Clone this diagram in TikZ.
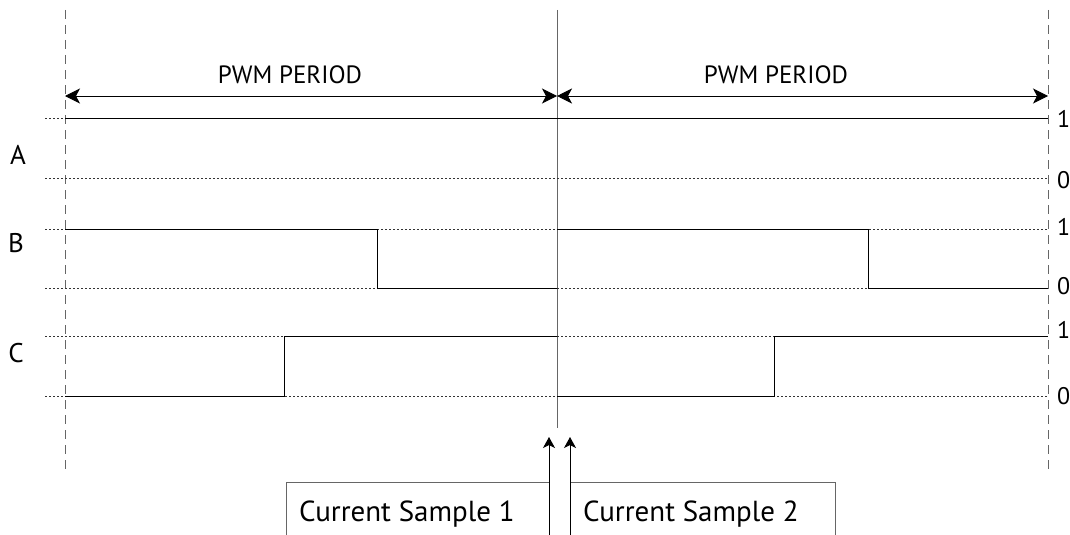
\documentclass[tikz,border=0pt]{standalone}
\usepackage{fontspec}
\setmainfont{PT Sans}
\usetikzlibrary{arrows.meta,calc,positioning}

\tikzset{
  guide/.style={black!60, line width=1pt, dash pattern=on 9pt off 6pt},
  level/.style={black!80, line width=0.9pt, dash pattern=on 2pt off 2pt},
  sig/.style={black, line width=0.9pt},
  period/.style={{Stealth[length=15pt,width=15pt,inset=4pt]}-{Stealth[length=15pt,width=15pt,inset=4pt]}, line width=1pt},
  sample/.style={-{Stealth[length=11pt,width=12pt,inset=3pt]}, line width=0.9pt},
  samplebox/.style={draw=black!60, line width=1pt},
  lbl/.style={font=\fontsize{25}{27}\selectfont, inner sep=0pt},
  lvl/.style={font=\fontsize{24}{26}\selectfont, inner sep=0pt, anchor=west},
  smp/.style={font=\fontsize{29}{31}\selectfont, inner sep=0pt, anchor=base west}
}

\begin{document}
\begin{tikzpicture}[x=1pt,y=-1pt]
  \useasboundingbox (0,0) rectangle (1070,535);

  % period boundaries
  \coordinate (l0) at (65,10);    \coordinate (l1) at (65,470);
  \coordinate (m0) at (557,10);   \coordinate (m1) at (557,428);
  \coordinate (r0) at (1048,10);  \coordinate (r1) at (1048,470);
  \draw[guide] (l0) -- (l1);
  \draw[guide] (r0) -- (r1);
  \draw[black!60, line width=1pt] (m0) -- (m1);

  % pwm period
  \coordinate (pl) at (65,96);
  \coordinate (pm) at (557,96);
  \coordinate (pr) at (1048,96);
  \draw[period] (pl) -- (pm);
  \draw[period] (pm) -- (pr);
  \node[lbl, anchor=base] (per1) at (290,83) {PWM PERIOD};
  \node[lbl, anchor=base] (per2) at (776,83) {PWM PERIOD};

  % logic levels
  \foreach \y in {118,178,229,288,336,396}
    \draw[level] (45,\y) -- (1048,\y);

  % signal A
  \draw[sig] (65,118) -- (1048,118);
  % signal B
  \draw[sig] (65,229) -- (377,229) -- (377,288) -- (557,288)
             (557,229) -- (868,229) -- (868,288) -- (1048,288);
  % signal C
  \draw[sig] (65,396) -- (284,396) -- (284,336) -- (557,336)
             (557,396) -- (774,396) -- (774,336) -- (1048,336);

  % channel names
  \node[lbl, font=\fontsize{27}{29}\selectfont] (chA) at (18,155) {A};
  \node[lbl, font=\fontsize{27}{29}\selectfont] (chB) at (16,243) {B};
  \node[lbl, font=\fontsize{27}{29}\selectfont] (chC) at (16,353) {C};

  % level values
  \node[lvl] (a1) at (1057,119) {1};
  \node[lvl] (a0) at (1057,180) {0};
  \node[lvl] (b1) at (1057,227) {1};
  \node[lvl] (b0) at (1057,286) {0};
  \node[lvl] (c1) at (1057,330) {1};
  \node[lvl] (c0) at (1057,396) {0};

  % current samples
  \draw[samplebox] (286,560) -- (286,482) -- (549,482);
  \draw[samplebox] (570,482) -- (835,482) -- (835,560);
  \node[smp] (cs1) at (299,521) {Current Sample 1};
  \node[smp] (cs2) at (583,521) {Current Sample 2};
  \coordinate (s1) at (549,545);  \coordinate (t1) at (549,437);
  \coordinate (s2) at (570,545);  \coordinate (t2) at (570,437);
  \draw[sample] (s1) -- (t1);
  \draw[sample] (s2) -- (t2);
\end{tikzpicture}
\end{document}
